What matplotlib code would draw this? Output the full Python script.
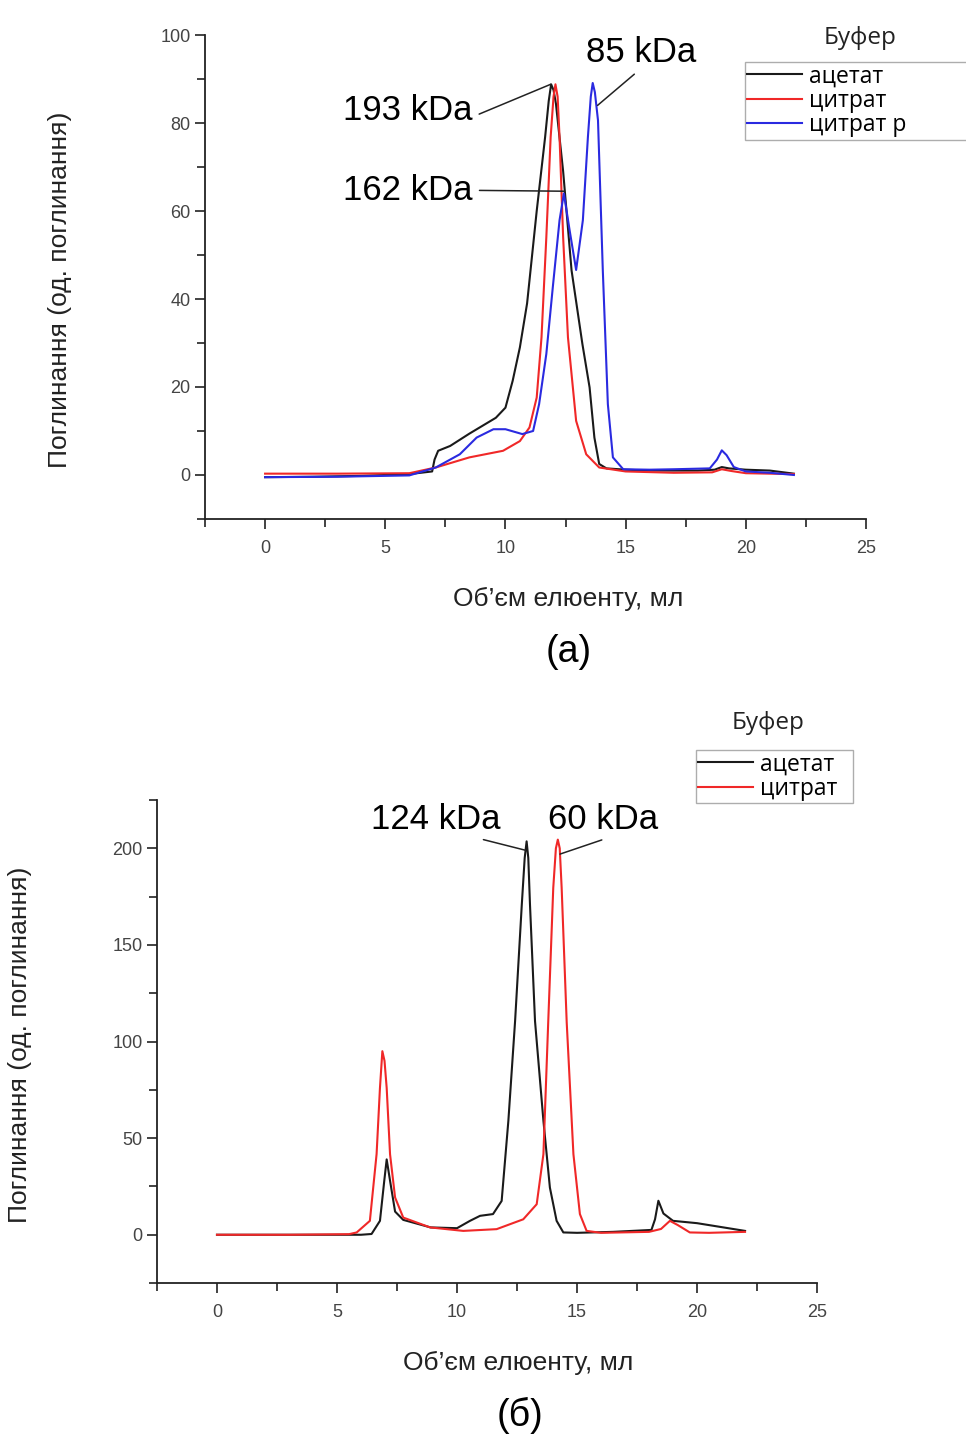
import matplotlib.pyplot as plt
from matplotlib.ticker import MultipleLocator

# ---- panel (а): three buffers ----
a_acetate_x = [0, 2, 4, 6, 6.95, 7.05, 7.2, 7.7, 8.5, 9.6, 10.0, 10.3, 10.6, 10.9, 11.3, 11.65, 11.8,
               11.9, 12.0, 12.1, 12.4, 12.75, 13.2, 13.5, 13.7, 13.9, 14.2, 15, 16, 17, 18, 18.7, 19.0,
               19.3, 20, 21, 22]
a_acetate_y = [-0.5, -0.4, -0.2, 0.2, 0.8, 3.5, 5.5, 6.6, 9.4, 13, 15.3, 21.4, 29, 39, 60, 76.8, 85,
               88.8, 87.5, 84.4, 69, 46.5, 29.8, 19.9, 8.5, 2.5, 1.5, 1.2, 1, 1, 1, 1.2, 1.8,
               1.5, 1.2, 1.0, 0.3]

a_citrate_x = [0, 3, 6, 7.1, 8.5, 9.9, 10.6, 11.0, 11.3, 11.5, 11.7, 11.88, 12.0, 12.08, 12.17, 12.25,
               12.4, 12.6, 12.94, 13.36, 13.9, 15, 17, 18.6, 19.0, 19.4, 20, 22]
a_citrate_y = [0.3, 0.3, 0.4, 1.7, 4, 5.5, 7.7, 10.8, 17.6, 31.3, 54, 76.8, 86, 88.8, 86, 76.8,
               54, 31.3, 12.3, 4.7, 1.7, 0.8, 0.5, 0.6, 1.3, 0.9, 0.4, 0.2]

a_citrate_ph_x = [0, 3, 6, 7.1, 8.1, 8.8, 9.5, 10.0, 10.7, 11.15, 11.4, 11.7, 11.97, 12.25, 12.43, 12.67,
                  12.94, 13.22, 13.43, 13.55, 13.63, 13.72, 13.85, 14.05, 14.26, 14.47, 14.9, 16, 17,
                  18.5, 18.8, 19.0, 19.2, 19.5, 20, 21, 22]
a_citrate_ph_y = [-0.5, -0.4, -0.1, 1.7, 4.7, 8.5, 10.4, 10.4, 9.3, 10, 16.1, 27.5, 42.7, 57.9, 64, 55.6,
                  46.6, 57.9, 76.8, 86, 89.1, 87, 80.6, 46.5, 16.1, 4, 1.3, 1.2, 1.3,
                  1.5, 3.5, 5.6, 4.5, 1.8, 0.8, 0.5, 0.0]

# ---- panel (б): two buffers ----
b_acetate_x = [0, 3, 6, 6.44, 6.79, 6.97, 7.07, 7.21, 7.42, 7.76, 8.9, 10.0, 10.54, 10.96, 11.5, 11.86,
               12.14, 12.42, 12.7, 12.82, 12.9, 12.97, 13.04, 13.25, 13.6, 13.87, 14.15, 14.43, 15,
               16.5, 18.1, 18.25, 18.39, 18.6, 19.0, 20.0, 21.1, 22]
b_acetate_y = [0, 0, 0, 0.4, 7.2, 28, 39, 28, 12, 7.7, 3.8, 3.4, 7.2, 9.8, 10.7, 17.5,
               59, 110.6, 171, 195, 203.6, 195, 171, 110.6, 59, 24.4, 7.2, 1.2, 1.0,
               1.5, 2.5, 8, 17.6, 11, 7.2, 6, 3.8, 2]

b_citrate_x = [0, 3, 5.5, 5.82, 6.37, 6.65, 6.79, 6.89, 6.98, 7.07, 7.21, 7.42, 7.76, 8.88, 10.26, 11.65,
               12.76, 13.32, 13.6, 13.8, 14.01, 14.12, 14.2, 14.28, 14.36, 14.57, 14.85, 15.12, 15.4,
               16, 18, 18.5, 18.87, 19.2, 19.7, 20.5, 22]
b_citrate_y = [0, 0, 0.3, 1.2, 7.2, 41.8, 76, 95, 90, 76, 41.7, 19.3, 8.9, 3.8, 2, 2.9,
               8, 15.8, 41.7, 110, 179.5, 200, 204.5, 200, 179.5, 110, 41.7, 10.7, 2,
               1, 1.5, 3, 7.2, 5, 1.2, 1.0, 1.5]

labels_a = ['ацетат', 'цитрат', 'цитрат р']
labels_b = ['ацетат', 'цитрат']
xlabel = 'Об\u2019єм елюенту, мл'
ylabel = 'Поглинання (од. поглинання)'

plt.rcParams['font.family'] = ['Liberation Sans', 'DejaVu Sans']

BLACK = '#1a1a1a'
RED = '#f02828'
BLUE = '#2a2ae0'

fig = plt.figure(figsize=(9.66, 14.36), dpi=100)
ax1 = fig.add_axes([0.2122, 0.6386, 0.6843, 0.3370])
ax2 = fig.add_axes([0.1625, 0.1065, 0.6833, 0.3364])


def style_axes(ax, ylim, ymajor):
    ax.set_xlim(-2.5, 25)
    ax.set_ylim(*ylim)
    for s in ['top', 'right']:
        ax.spines[s].set_visible(False)
    for s in ['left', 'bottom']:
        ax.spines[s].set_linewidth(1.3)
        ax.spines[s].set_color('#222222')
    ax.xaxis.set_major_locator(MultipleLocator(5))
    ax.xaxis.set_minor_locator(MultipleLocator(2.5))
    ax.yaxis.set_major_locator(MultipleLocator(ymajor))
    ax.yaxis.set_minor_locator(MultipleLocator(ymajor / 2))
    ax.tick_params(which='both', direction='out', width=1.2, colors='#222222',
                   labelsize=13, labelcolor='#444444')
    ax.tick_params(which='major', length=7)
    ax.tick_params(which='minor', length=6)
    ax.tick_params(axis='x', pad=8)


# panel (а)
l1, = ax1.plot(a_acetate_x, a_acetate_y, color=BLACK, lw=1.5)
l2, = ax1.plot(a_citrate_x, a_citrate_y, color=RED, lw=1.5)
l3, = ax1.plot(a_citrate_ph_x, a_citrate_ph_y, color=BLUE, lw=1.5)
style_axes(ax1, (-10, 100), 20)
ax1.set_yticks([0, 20, 40, 60, 80, 100])

ax1.set_xlabel(xlabel, fontsize=19, color='#222222')
ax1.xaxis.set_label_coords(0.549, -0.141)
ax1.set_ylabel(ylabel, fontsize=19, color='#222222')
ax1.yaxis.set_label_coords(-0.201, 0.473)

arrow = dict(arrowstyle='-', color='#222222', lw=1.1, shrinkA=3, shrinkB=0)
ax1.annotate('193 kDa', xy=(11.88, 88.8), xytext=(8.63, 82.9), ha='right', va='center',
             fontsize=25, arrowprops=dict(arrow, relpos=(1, 0.3)))
ax1.annotate('162 kDa', xy=(12.45, 64.5), xytext=(8.63, 64.7), ha='right', va='center',
             fontsize=25, arrowprops=dict(arrow, relpos=(1, 0.5)))
ax1.annotate('85 kDa', xy=(13.83, 84), xytext=(15.63, 96.1), ha='center', va='center',
             fontsize=25, arrowprops=dict(arrow, relpos=(0.5, 0)))

fig.text(860 / 966, 1 - 38 / 1436, 'Буфер', fontsize=17.5, family='Open Sans',
         ha='center', va='center', color='#222222')
leg1 = fig.legend([l1, l2, l3], labels_a, loc='upper left',
                  bbox_to_anchor=(745 / 966, 1 - 152 / 1436, 0.26, 90 / 1436), mode='expand',
                  prop={'family': 'Open Sans', 'size': 16.5}, frameon=True, fancybox=False,
                  edgecolor='#999999', handlelength=2.4, handletextpad=0.3,
                  labelspacing=0.02, borderpad=0.1, borderaxespad=0)
leg1.get_frame().set_linewidth(1.0)

fig.text(569 / 966, 1 - 652 / 1436, '(а)', fontsize=27, ha='center', va='center')

# panel (б)
m1, = ax2.plot(b_acetate_x, b_acetate_y, color=BLACK, lw=1.5)
m2, = ax2.plot(b_citrate_x, b_citrate_y, color=RED, lw=1.5)
style_axes(ax2, (-25, 225), 50)
ax2.set_yticks([0, 50, 100, 150, 200])

ax2.set_xlabel(xlabel, fontsize=19, color='#222222')
ax2.xaxis.set_label_coords(0.547, -0.141)
ax2.set_ylabel(ylabel, fontsize=19, color='#222222')
ax2.yaxis.set_label_coords(-0.189, 0.493)

ax2.annotate('124 kDa', xy=(12.85, 199), xytext=(9.125, 215), ha='center', va='center',
             fontsize=25, arrowprops=dict(arrow, relpos=(0.75, 0)))
ax2.annotate('60 kDa', xy=(14.29, 197), xytext=(16.08, 215), ha='center', va='center',
             fontsize=25, arrowprops=dict(arrow, relpos=(0.6, 0)))

fig.text(768 / 966, 1 - 723 / 1436, 'Буфер', fontsize=17.5, family='Open Sans',
         ha='center', va='center', color='#222222')
leg2 = fig.legend([m1, m2], labels_b, loc='upper left',
                  bbox_to_anchor=(696 / 966, 1 - 807 / 1436, 157 / 966, 57 / 1436), mode='expand',
                  prop={'family': 'Open Sans', 'size': 16.5}, frameon=True, fancybox=False,
                  edgecolor='#999999', handlelength=2.4, handletextpad=0.3,
                  labelspacing=0.02, borderpad=0.1, borderaxespad=0)
leg2.get_frame().set_linewidth(1.0)

fig.text(520 / 966, 1 - 1415 / 1436, '(б)', fontsize=27, ha='center', va='center')

fig.savefig('out.png', dpi=100)
